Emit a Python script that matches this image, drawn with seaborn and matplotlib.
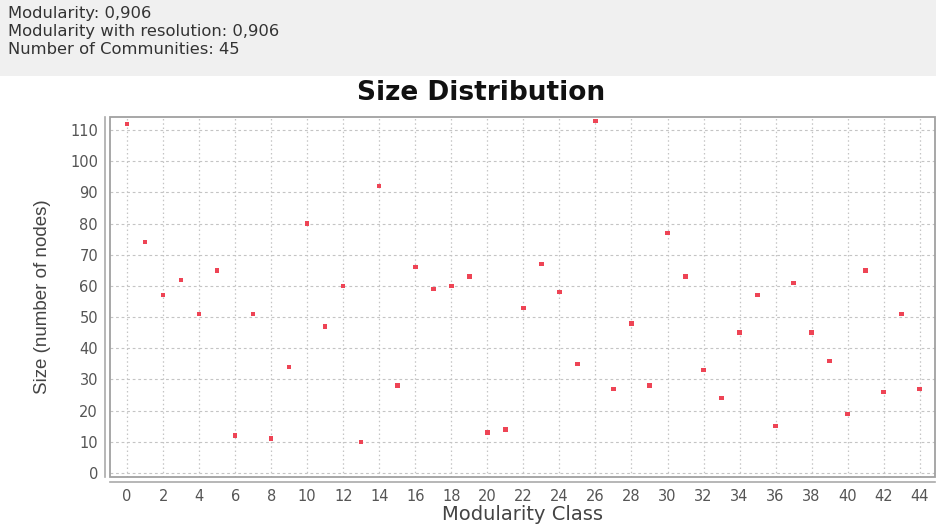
import matplotlib
matplotlib.use("Agg")
import matplotlib.pyplot as plt
from matplotlib.patches import Rectangle
import seaborn as sns
import pandas as pd

# Community sizes per modularity class
modularity_class = list(range(45))
community_size = [112, 74, 57, 62, 51, 65, 12, 51, 11, 34,
                  80, 47, 60, 10, 92, 28, 66, 59, 60, 63,
                  13, 14, 53, 67, 58, 35, 113, 27, 48, 28,
                  77, 63, 33, 24, 45, 57, 15, 61, 45, 36,
                  19, 65, 26, 51, 27]
x_ticks = list(range(0, 45, 2))
y_ticks = list(range(0, 111, 10))
header_lines = ["Modularity: 0,906",
                "Modularity with resolution: 0,906",
                "Number of Communities: 45"]

df = pd.DataFrame({"Modularity Class": modularity_class,
                   "Size": community_size})

sns.set_style("white")
plt.rcParams["font.family"] = ["DejaVu Sans"]

W, H = 937, 529
fig = plt.figure(figsize=(W / 100, H / 100), dpi=100)
fig.patch.set_facecolor("white")

# grey statistics band at the top
fig.patches.append(Rectangle((0, 1 - 76 / H), 1, 76 / H, transform=fig.transFigure,
                             facecolor="#f0f0f0", edgecolor="none", zorder=0))
for i, line in enumerate(header_lines):
    fig.text(8 / W, 1 - (18 + 18 * i) / H, line, fontsize=11.8,
             family=["DejaVu Sans"], color="#333333",
             ha="left", va="baseline")

ax = fig.add_axes([110 / W, 1 - 477 / H, (935 - 110) / W, (477 - 117) / H])
sns.scatterplot(data=df, x="Modularity Class", y="Size", ax=ax,
                marker="s", s=10, color="#ee4455", edgecolor="none",
                linewidth=0, zorder=3)

ax.set_xlim(-0.95, 44.85)
ax.set_ylim(-1.3, 114.2)
ax.set_xticks(x_ticks)
ax.set_yticks(y_ticks)

# dotted verticals, dashed horizontals
ax.grid(True, axis="x", color="#c4c4c4", linestyle=(0, (1.2, 2.2)), linewidth=0.9)
ax.grid(True, axis="y", color="#c4c4c4", linestyle=(0, (2.5, 2.5)), linewidth=0.8)
ax.set_axisbelow(True)

# axis lines sit slightly outside the plot frame
for side in ["left", "bottom"]:
    ax.spines[side].set_position(("outward", 3.6))
    ax.spines[side].set_color("#aaaaaa")
    ax.spines[side].set_linewidth(1.2)
for side in ["top", "right"]:
    ax.spines[side].set_visible(False)
ax.add_patch(Rectangle((0, 0), 1, 1, transform=ax.transAxes, fill=False,
                       edgecolor="#a0a0a0", linewidth=1.3, clip_on=False, zorder=4))

ax.tick_params(axis="both", which="major", length=3, width=0.8, color="#aaaaaa",
               labelsize=10.5, labelcolor="#555555", pad=2)

ax.set_xlabel("Modularity Class", fontsize=14, color="#444444", labelpad=1)
ax.set_ylabel("Size (number of nodes)", fontsize=13.5, color="#444444", labelpad=14,
              family=["Liberation Sans", "DejaVu Sans"])

fig.text(481 / W, 1 - 93 / H, "Size Distribution", fontsize=19, fontweight="bold",
         color="#111111", ha="center", va="center")

fig.savefig("out.png", dpi=100)
